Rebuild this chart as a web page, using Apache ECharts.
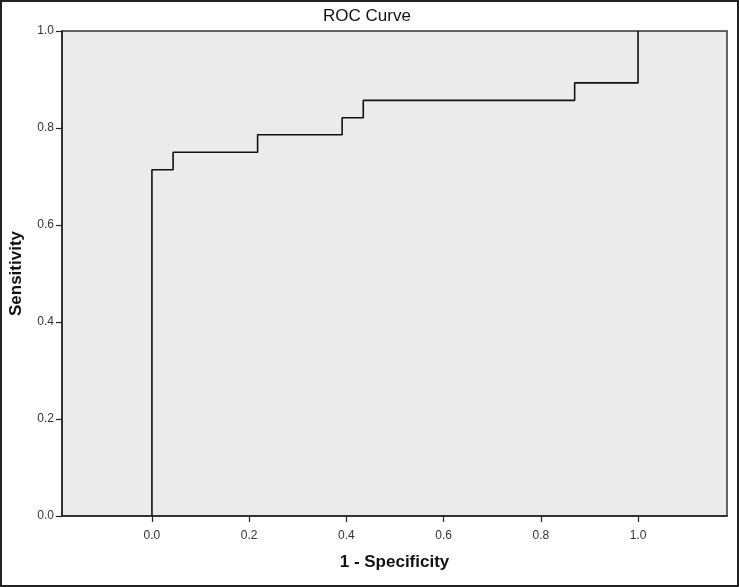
<!DOCTYPE html>
<html>
<head>
<meta charset="utf-8">
<script src="https://cdn.jsdelivr.net/npm/echarts@6/dist/echarts.min.js"></script>
<style>
html,body{margin:0;padding:0;background:#fff;}
#c{width:739px;height:587px;}
</style>
</head>
<body>
<div id="c"></div>
<script>
// ROC curve vertices (1 - Specificity, Sensitivity)
const fpr = [0, 0, 0.0435, 0.0435, 0.2174, 0.2174, 0.3913, 0.3913, 0.4348, 0.4348, 0.8696, 0.8696, 1, 1];
const tpr = [0, 0.714, 0.714, 0.75, 0.75, 0.786, 0.786, 0.821, 0.821, 0.857, 0.857, 0.893, 0.893, 1];
const xTicks = [0, 0.2, 0.4, 0.6, 0.8, 1.0];

const chart = echarts.init(document.getElementById('c'));
const fontFam = '"Liberation Sans", Arial, sans-serif';
chart.setOption({
  animation: false,
  backgroundColor: '#ffffff',
  title: {
    text: 'ROC Curve',
    left: 362, top: 3, textAlign: 'center',
    textStyle: {fontFamily: fontFam, fontSize: 17, fontWeight: 'normal', color: '#111'}
  },
  graphic: [{
    type: 'rect', z: -10, silent: true,
    shape: {x: 1, y: 1, width: 737, height: 585},
    style: {fill: 'none', stroke: '#222', lineWidth: 2}
  }],
  grid: {
    left: 62, top: 31, width: 665, height: 485,
    outerBoundsMode: 'none', containLabel: false,
    show: true, backgroundColor: '#ebebeb', borderColor: '#333', borderWidth: 1.5
  },
  xAxis: {
    type: 'value', min: -0.185, max: 1.183,
    name: '1 - Specificity', nameLocation: 'middle', nameGap: 38,
    nameTextStyle: {fontFamily: fontFam, fontSize: 17, fontWeight: 'bold', color: '#111'},
    axisLine: {show: true, onZero: false, lineStyle: {color: '#222', width: 1.5}},
    axisTick: {show: true, length: 6, customValues: xTicks, lineStyle: {color: '#222', width: 1.2}},
    axisLabel: {customValues: xTicks, formatter: v => v.toFixed(1), fontFamily: fontFam, fontSize: 12, color: '#333', margin: 14},
    splitLine: {show: false}
  },
  yAxis: {
    type: 'value', min: 0, max: 1, interval: 0.2,
    name: 'Sensitivity', nameLocation: 'middle', nameGap: 37, nameRotate: 90,
    nameTextStyle: {fontFamily: fontFam, fontSize: 17, fontWeight: 'bold', color: '#111'},
    axisLine: {show: true, onZero: false, lineStyle: {color: '#222', width: 1.5}},
    axisTick: {show: true, length: 6, lineStyle: {color: '#222', width: 1.2}},
    axisLabel: {formatter: v => v.toFixed(1), fontFamily: fontFam, fontSize: 12, color: '#333', margin: 8},
    splitLine: {show: false}
  },
  series: [{
    type: 'line',
    data: fpr.map((x, i) => [x, tpr[i]]),
    showSymbol: false,
    lineStyle: {color: '#111', width: 1.6},
    z: 5
  }]
});
</script>
</body>
</html>
